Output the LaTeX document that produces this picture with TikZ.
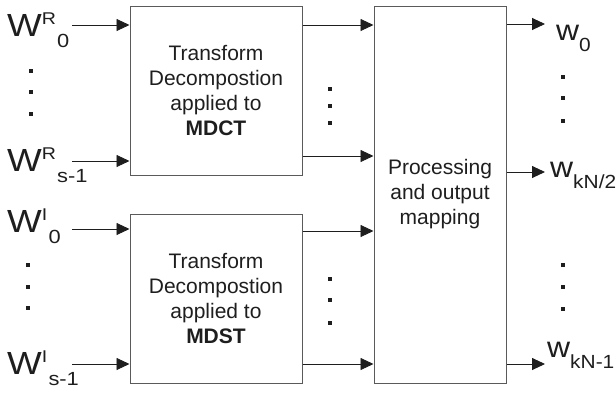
\documentclass[tikz,border=0pt]{standalone}
\usepackage{fontspec}
\setmainfont{Liberation Sans}
\usepackage{tikz}
\usetikzlibrary{arrows.meta,positioning,calc}
\definecolor{ink}{RGB}{30,30,30}
\definecolor{edge}{RGB}{90,90,90}
\newcommand\supfont{\fontsize{17}{17}\selectfont}
\newcommand\subfont{\fontsize{19}{19}\selectfont}
\newcommand\inlab[2]{\scalebox{1.15}[1]{W\raisebox{12pt}{\supfont #1}\kern1pt\raisebox{-11pt}{\subfont #2}}}
\newcommand\outlab[1]{\scalebox{1.1}[1]{w\raisebox{-11pt}{\subfont #1}}}

\begin{document}
\begin{tikzpicture}[x=1pt,y=-1pt,
  font=\fontsize{21}{25}\selectfont,
  blk/.style={draw=edge,line width=1pt,align=center,text=ink,inner sep=0pt},
  lab/.style={anchor=base west,inner sep=0pt,text=ink,font=\fontsize{32}{32}\selectfont},
  olab/.style={anchor=base west,inner sep=0pt,text=ink,font=\fontsize{29}{29}\selectfont},
  ar/.style={-{Triangle[length=13pt,width=12pt]},line width=0.9pt,draw=ink},
  dot/.style={fill=ink}]
\useasboundingbox (0,0) rectangle (616,399);

% blocks
\node[blk,minimum width=172pt,minimum height=169pt] (mdct) at (216,90.5)
  {Transform\\Decompostion\\applied to\\\textbf{MDCT}};
\node[blk,minimum width=172pt,minimum height=169pt] (mdst) at (216,298.5)
  {Transform\\Decompostion\\applied to\\\textbf{MDST}};
\node[blk,minimum width=132pt,minimum height=377pt] (proc) at (440,194.5)
  {Processing\\and output\\mapping};

% input labels
\node[lab] (wr0) at (7,36) {\inlab{R}{0}};
\node[lab] (wrs) at (7,171) {\inlab{R}{s-1}};
\node[lab] (wi0) at (7,232) {\inlab{I}{0}};
\node[lab] (wis) at (7,374) {\inlab{I}{s-1}};
\coordinate (in1) at (72,25);
\coordinate (in2) at (72,161);
\coordinate (in3) at (72,229);
\coordinate (in4) at (72,364);
\draw[ar] (in1) -- (in1 -| mdct.west);
\draw[ar] (in2) -- (in2 -| mdct.west);
\draw[ar] (in3) -- (in3 -| mdst.west);
\draw[ar] (in4) -- (in4 -| mdst.west);

% block to block
\draw[ar] (mdct.east |- 0,25) -- (proc.west |- 0,25);
\draw[ar] (mdct.east |- 0,156) -- (proc.west |- 0,156);
\draw[ar] (mdst.east |- 0,231) -- (proc.west |- 0,231);
\draw[ar] (mdst.east |- 0,364) -- (proc.west |- 0,364);

% outputs
\coordinate (out1) at (545,24);
\coordinate (out2) at (545,172);
\coordinate (out3) at (545,364);
\draw[ar] (proc.east |- out1) -- (out1);
\draw[ar] (proc.east |- out2) -- (out2);
\draw[ar] (proc.east |- out3) -- (out3);
\node[olab] (w0) at (556,40) {\outlab{0}};
\node[olab] (wh) at (550,177) {\outlab{kN/2}};
\node[olab] (wl) at (547,357) {\outlab{kN-1}};

% dots
\foreach \x/\ya/\yb/\yc in {31/71/92/114, 28/265/287/308, 330/89/106/123,
                            330/279/300/323, 563/77/98/121, 563/265/287/309}
  \foreach \y in {\ya,\yb,\yc}
    \fill[dot] (\x-2.2,\y-2.2) rectangle (\x+2.2,\y+2.2);
\end{tikzpicture}
\end{document}
